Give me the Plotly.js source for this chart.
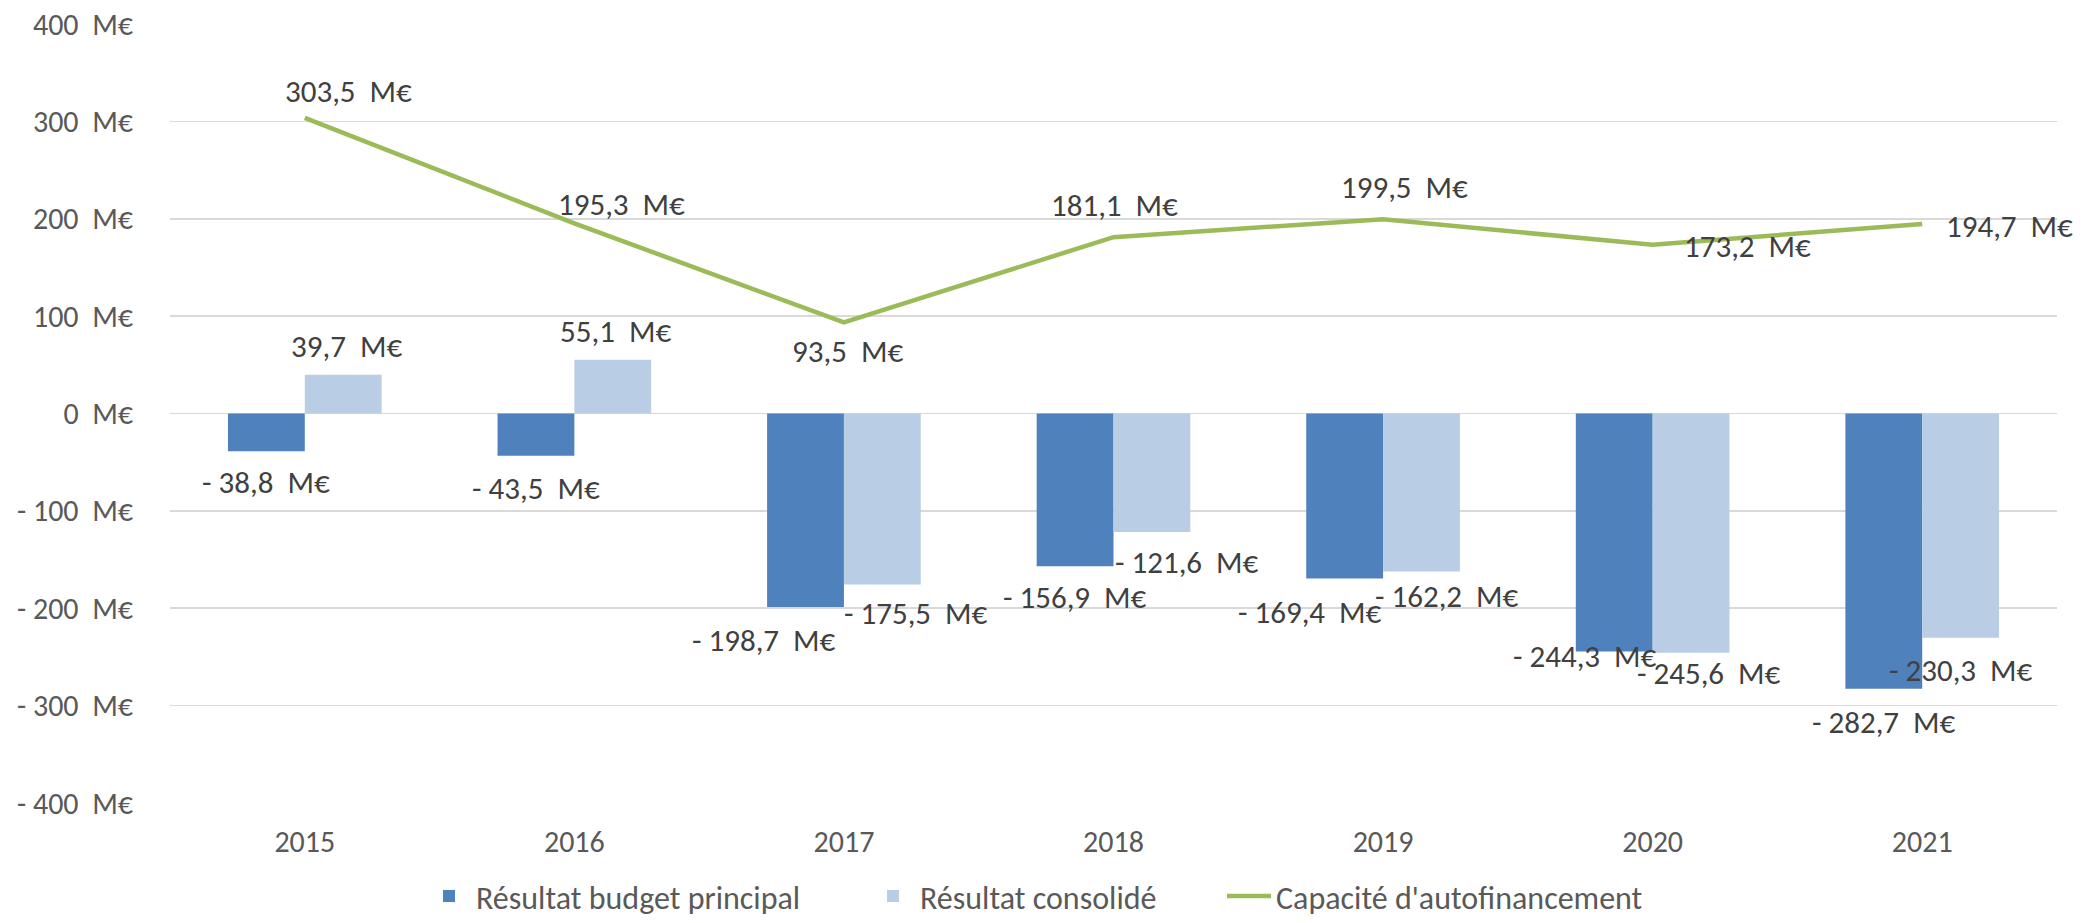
<!DOCTYPE html>
<html>
<head>
<meta charset="utf-8">
<script src="https://cdn.plot.ly/plotly-3.0.1.min.js"></script>
<style>html,body{margin:0;padding:0;background:#fff;}#chart{width:2098px;height:923px;}</style>
</head>
<body>
<div id="chart"></div>
<script>
// ---- Data ----
var years = ['2015', '2016', '2017', '2018', '2019', '2020', '2021'];
var resultatBudgetPrincipal = [-38.8, -43.5, -198.7, -156.9, -169.4, -244.3, -282.7];
var resultatConsolide = [39.7, 55.1, -175.5, -121.6, -162.2, -245.6, -230.3];
var capaciteAutofinancement = [303.5, 195.3, 93.5, 181.1, 199.5, 173.2, 194.7];
var yTickValues = [-400, -300, -200, -100, 0, 100, 200, 300, 400];
var seriesNames = ['Résultat budget principal', 'Résultat consolidé', "Capacité d'autofinancement"];

// ---- Styles ----
var FONT = 'Carlito, Calibri, Lato, sans-serif';
var colDark = '#4F81BD', colLight = '#B9CDE5', colLine = '#9BBB59';
var labelColor = '#404040', axisColor = '#595959';
var BARGAP = 0.43;
var barHalf = (1 - BARGAP) / 4; // centre offset of each bar in a group
var LABEL_SIZE = 31, TICK_SIZE = 30, LEGEND_SIZE = 32;

// label pixel offsets [dx, dy] (screen px, dy positive downwards)
var offDark = [[0, 31], [0, 32], [-42, 33], [0, 31], [-35, 34], [-29, 5], [0, 33]];
var offLight = [[3, -29], [3, -29], [34, 29], [35, 30], [26, 25], [18, 20], [0, 32]];
var offLine = [[44, -27], [47, -19], [4, 29], [1, -32], [21, -32], [95, 1], [87, 2]];

function fmt(v) {
  var s = Math.abs(v).toFixed(1).replace('.', ',');
  return (v < 0 ? '- ' : '') + s + '\u00a0\u00a0M€';
}
function fmtTick(v) {
  return (v < 0 ? '- ' : '') + Math.abs(v) + '\u00a0\u00a0M€';
}

var traces = [
  { type: 'bar', name: seriesNames[0], x: years, y: resultatBudgetPrincipal,
    marker: { color: colDark }, hoverinfo: 'x+y', legend: 'legend' },
  { type: 'bar', name: seriesNames[1], x: years, y: resultatConsolide,
    marker: { color: colLight }, hoverinfo: 'x+y', legend: 'legend2' },
  { type: 'scatter', mode: 'lines', name: seriesNames[2], x: years, y: capaciteAutofinancement,
    line: { color: colLine, width: 4.5 }, hoverinfo: 'x+y', legend: 'legend3' }
];

var annotations = [];
function addLabels(values, catOffset, offs) {
  values.forEach(function (v, i) {
    annotations.push({
      xref: 'x', yref: 'y', x: i + catOffset, y: v,
      text: fmt(v), showarrow: false,
      xanchor: 'center', yanchor: 'middle',
      xshift: offs[i][0], yshift: -offs[i][1],
      font: { family: FONT, size: LABEL_SIZE, color: labelColor }
    });
  });
}
addLabels(resultatBudgetPrincipal, -barHalf, offDark);
addLabels(resultatConsolide, barHalf, offLight);
addLabels(capaciteAutofinancement, 0, offLine);

function legendAt(px) {
  return {
    orientation: 'h', xref: 'container', yref: 'container',
    x: px / 2098, xanchor: 'left', y: 0.029, yanchor: 'middle',
    font: { family: FONT, size: LEGEND_SIZE, color: axisColor },
    itemwidth: 44, bgcolor: 'rgba(0,0,0,0)', borderwidth: 0
  };
}

var layout = {
  width: 2098, height: 923,
  margin: { l: 170, r: 41, t: 24, b: 120, pad: 0 },
  paper_bgcolor: '#ffffff', plot_bgcolor: '#ffffff',
  font: { family: FONT, size: TICK_SIZE, color: axisColor },
  barmode: 'group', bargap: BARGAP, bargroupgap: 0,
  showlegend: true,
  legend: legendAt(422),
  legend2: legendAt(866),
  legend3: legendAt(1222),
  xaxis: {
    type: 'category', categoryorder: 'array', categoryarray: years,
    range: [-0.5, 6.5], showgrid: false, zeroline: false, showline: false,
    ticks: '', ticklabelstandoff: 18,
    tickfont: { family: FONT, size: TICK_SIZE, color: axisColor }
  },
  yaxis: {
    range: [-400, 400], tickvals: yTickValues, ticktext: yTickValues.map(fmtTick),
    showgrid: true, gridcolor: '#D9D9D9', gridwidth: 1.6,
    zeroline: false, showline: false, ticks: '', ticklabelstandoff: 36,
    tickfont: { family: FONT, size: TICK_SIZE, color: axisColor }
  },
  annotations: annotations
};

Plotly.newPlot('chart', traces, layout, { displayModeBar: false, staticPlot: true });
</script>
</body>
</html>
